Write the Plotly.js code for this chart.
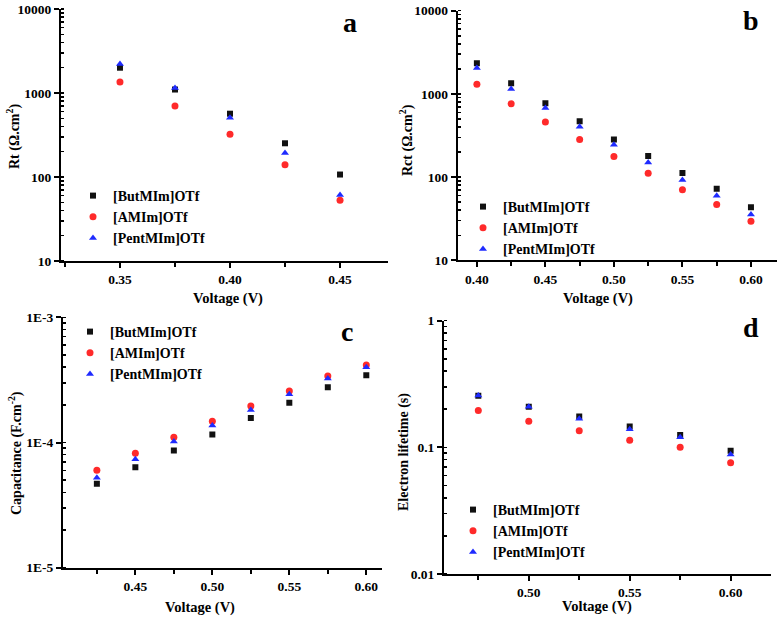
<!DOCTYPE html>
<html>
<head>
<meta charset="utf-8">
<script src="https://cdn.plot.ly/plotly-3.0.1.min.js"></script>
<style>html,body{margin:0;padding:0;background:#fff;}#chart{width:782px;height:621px;}</style>
</head>
<body>
<div id="chart"></div>
<script>
// ---- data ----
const seriesNames = ['[ButMIm]OTf', '[AMIm]OTf', '[PentMIm]OTf'];

const voltA = [0.35, 0.375, 0.40, 0.425, 0.45];
const rtBut = [2000, 1100, 567, 252, 107];
const rtAMI = [1352, 700, 322, 140, 52.7];
const rtPent = [2214, 1148, 508, 193, 61];

const voltB = [0.40, 0.425, 0.45, 0.475, 0.50, 0.525, 0.55, 0.575, 0.60];
const rctBut = [2333, 1343, 773, 470, 283, 179, 112, 72.4, 43.3];
const rctAMI = [1306, 759, 461, 283, 177, 111, 70.5, 47, 29.4];
const rctPent = [2051, 1148, 679, 402, 244, 150, 92, 59.7, 35.6];

const voltC = [0.425, 0.45, 0.475, 0.50, 0.525, 0.55, 0.575, 0.60];
const capBut = [4.69e-5, 6.33e-5, 8.65e-5, 1.16e-4, 1.57e-4, 2.08e-4, 2.76e-4, 3.44e-4];
const capAMI = [6.0e-5, 8.19e-5, 1.10e-4, 1.48e-4, 1.96e-4, 2.58e-4, 3.40e-4, 4.16e-4];
const capPent = [5.24e-5, 7.34e-5, 1.02e-4, 1.37e-4, 1.82e-4, 2.43e-4, 3.24e-4, 3.99e-4];

const voltD = [0.475, 0.50, 0.525, 0.55, 0.575, 0.60];
const tauBut = [0.256, 0.209, 0.175, 0.146, 0.125, 0.094];
const tauAMI = [0.195, 0.161, 0.135, 0.114, 0.100, 0.0757];
const tauPent = [0.257, 0.209, 0.168, 0.139, 0.120, 0.088];

const yTicksAB = [10, 100, 1000, 10000];
const yTextAB = ['10', '100', '1000', '10000'];
const yTicksC = [1e-5, 1e-4, 1e-3];
const yTextC = ['1E-5', '1E-4', '1E-3'];
const yTicksD = [0.01, 0.1, 1];
const yTextD = ['0.01', '0.1', '1'];

// ---- styles ----
const FONT = 'Liberation Serif, Times New Roman, serif';
const styles = [
  {color: '#111111', symbol: 'square', size: 6},
  {color: '#ff2a2a', symbol: 'circle', size: 7},
  {color: '#1f2bff', symbol: 'triangle-up', size: 7}
];

function mk(x, y, i, ax, leg) {
  return {
    x: x, y: y, type: 'scatter', mode: 'markers', name: seriesNames[i],
    xaxis: 'x' + ax, yaxis: 'y' + ax, legend: leg,
    marker: {color: styles[i].color, symbol: styles[i].symbol, size: styles[i].size}
  };
}

const data = [
  mk(voltA, rtBut, 0, '', 'legend'), mk(voltA, rtAMI, 1, '', 'legend'), mk(voltA, rtPent, 2, '', 'legend'),
  mk(voltB, rctBut, 0, '2', 'legend2'), mk(voltB, rctAMI, 1, '2', 'legend2'), mk(voltB, rctPent, 2, '2', 'legend2'),
  mk(voltC, capBut, 0, '3', 'legend3'), mk(voltC, capAMI, 1, '3', 'legend3'), mk(voltC, capPent, 2, '3', 'legend3'),
  mk(voltD, tauBut, 0, '4', 'legend4'), mk(voltD, tauAMI, 1, '4', 'legend4'), mk(voltD, tauPent, 2, '4', 'legend4')
];

const tickFont = {family: FONT, size: 13.5, color: '#000', weight: 'bold'};

function xax(domain, range, anchor) {
  return {
    domain: domain, range: range, anchor: anchor,
    showline: true, linewidth: 2, linecolor: '#000', mirror: false,
    showgrid: false, zeroline: false,
    ticks: 'outside', ticklen: 5, tickwidth: 2, tickcolor: '#000',
    tick0: 0, dtick: 0.05, tickformat: '.2f', tickfont: tickFont,
    minor: {ticks: 'outside', ticklen: 4, tickwidth: 2, tickcolor: '#000', dtick: 0.025, showgrid: false}
  };
}
function yax(domain, range, anchor, vals, text) {
  return {
    type: 'log', domain: domain, range: range, anchor: anchor,
    showline: true, linewidth: 2, linecolor: '#000', mirror: false,
    showgrid: false, zeroline: false,
    ticks: 'outside', ticklen: 5, tickwidth: 2, tickcolor: '#000',
    tickmode: 'array', tickvals: vals, ticktext: text, tickfont: tickFont,
    minor: {ticks: 'inside', ticklen: 3, tickwidth: 1.5, tickcolor: '#000', dtick: 'D1', showgrid: false}
  };
}

const legFont = {family: FONT, size: 14, color: '#000', weight: 'bold'};
function leg(x, y) {
  return {x: x, y: y, xanchor: 'left', yanchor: 'top', bgcolor: 'rgba(0,0,0,0)',
          font: legFont, tracegroupgap: 0, itemclick: false};
}

const titleFont = {family: FONT, size: 14.5, color: '#000', weight: 'bold'};
const yTitleFont = {family: FONT, size: 14, color: '#000', weight: 'bold'};
const letterFont = {family: FONT, size: 28, color: '#000', weight: 'bold'};
function ann(text, x, y, font, angle) {
  return {text: text, x: x / 782, y: 1 - y / 621, xref: 'paper', yref: 'paper',
          showarrow: false, font: font, textangle: angle || 0, xanchor: 'center', yanchor: 'middle'};
}

const layout = {
  width: 782, height: 621,
  margin: {l: 0, r: 0, t: 0, b: 0},
  paper_bgcolor: '#fff', plot_bgcolor: '#fff',
  showlegend: true,
  xaxis: xax([61 / 782, 388 / 782], [0.3232, 0.4718], 'y'),
  yaxis: yax([1 - 261 / 621, 1 - 9 / 621], [1, 4], 'x', yTicksAB, yTextAB),
  xaxis2: xax([457.7 / 782, 777 / 782], [0.386, 0.619], 'y2'),
  yaxis2: yax([1 - 260.3 / 621, 1 - 10.7 / 621], [1, 4], 'x2', yTicksAB, yTextAB),
  xaxis3: xax([63 / 782, 381.7 / 782], [0.403, 0.610], 'y3'),
  yaxis3: yax([1 - 567.7 / 621, 1 - 317.3 / 621], [-5, -3], 'x3', yTicksC, yTextC),
  xaxis4: xax([444 / 782, 771 / 782], [0.458, 0.620], 'y4'),
  yaxis4: yax([1 - 574 / 621, 1 - 320.7 / 621], [-2, 0], 'x4', yTicksD, yTextD),
  legend: leg(73 / 782, 1 - 180 / 621),
  legend2: leg(463 / 782, 1 - 191 / 621),
  legend3: leg(70 / 782, 1 - 316 / 621),
  legend4: leg(453 / 782, 1 - 494 / 621),
  annotations: [
    ann('Voltage (V)', 228, 298, titleFont),
    ann('Voltage (V)', 598, 298, titleFont),
    ann('Voltage (V)', 200, 607, titleFont),
    ann('Voltage (V)', 597, 606, titleFont),
    ann('Rt (Ω.cm<sup>2</sup>)', 13, 137, yTitleFont, -90),
    ann('Rct (Ω.cm<sup>2</sup>)', 406, 140, yTitleFont, -90),
    ann('Capacitance (F.cm<sup>-2</sup>)', 15, 453, yTitleFont, -90),
    ann('Electron lifetime (s)', 404, 452, yTitleFont, -90),
    ann('a', 350, 22, letterFont),
    ann('b', 751, 20, letterFont),
    ann('c', 347, 331, letterFont),
    ann('d', 751, 327, letterFont)
  ]
};

Plotly.newPlot('chart', data, layout, {displayModeBar: false, staticPlot: true});
</script>
</body>
</html>
